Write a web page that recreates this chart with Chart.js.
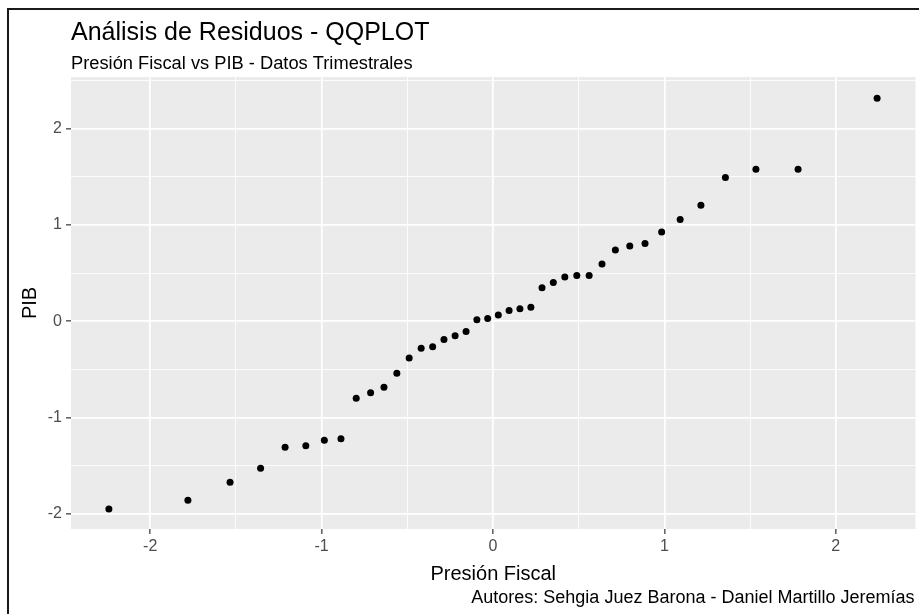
<!DOCTYPE html>
<html>
<head>
<meta charset="utf-8">
<script src="https://cdn.jsdelivr.net/npm/chart.js@4/dist/chart.umd.min.js"></script>
<style>
  html, body { margin: 0; padding: 0; background: #fff; }
  #wrap { position: relative; width: 919px; height: 614px; overflow: hidden; }
  #frame { position: absolute; left: 7px; top: 8px; right: -5px; bottom: -5px;
           border-left: 2px solid #1a1a1a; border-top: 2px solid #1a1a1a; pointer-events: none; }
</style>
</head>
<body>
<div id="wrap">
  <canvas id="qq" width="919" height="614"></canvas>
  <div id="frame"></div>
</div>
<script>
const FONT = "'Liberation Sans', Arial, sans-serif";

// theoretical normal quantiles (x) and sorted residuals (y)
const theoretical = [
  -2.241, -1.780, -1.534, -1.356, -1.213, -1.092, -0.984, -0.887, -0.798, -0.714,
  -0.636, -0.561, -0.489, -0.419, -0.352, -0.286, -0.221, -0.157, -0.094, -0.031,
   0.031,  0.094,  0.157,  0.221,  0.286,  0.352,  0.419,  0.489,  0.561,  0.636,
   0.714,  0.798,  0.887,  0.984,  1.092,  1.213,  1.356,  1.534,  1.780,  2.241
];
const residuals = [
  -1.948, -1.858, -1.670, -1.525, -1.307, -1.293, -1.234, -1.220, -0.800, -0.742,
  -0.686, -0.541, -0.381, -0.281, -0.264, -0.191, -0.150, -0.108,  0.014,  0.027,
   0.065,  0.110,  0.130,  0.145,  0.346,  0.401,  0.460,  0.474,  0.474,  0.593,
   0.738,  0.780,  0.807,  0.925,  1.056,  1.202,  1.490,  1.576,  1.576,  2.314
];

const xGridValues = [-2, -1.5, -1, -0.5, 0, 0.5, 1, 1.5, 2];
const yGridValues = [-2, -1.5, -1, -0.5, 0, 0.5, 1, 1.5, 2, 2.5];

const titleText = "Análisis de Residuos - QQPLOT";
const subtitleText = "Presión Fiscal vs PIB - Datos Trimestrales";
const captionText = "Autores: Sehgia Juez Barona - Daniel Martillo Jeremías";
const xTitle = "Presión Fiscal";
const yTitle = "PIB";

Chart.defaults.font.family = FONT;

function isMajor(v) { return Number.isInteger(v); }

// grey panel + ggplot style titles/caption
const ggText = {
  id: 'ggText',
  beforeDraw(chart) {
    const {ctx, chartArea: a} = chart;
    ctx.save();
    ctx.fillStyle = '#EBEBEB';
    ctx.fillRect(a.left, a.top, a.right - a.left, a.bottom - a.top);
    ctx.restore();
  },
  afterDraw(chart) {
    const {ctx, chartArea: a} = chart;
    ctx.save();
    ctx.fillStyle = '#000';
    ctx.textBaseline = 'alphabetic';
    ctx.textAlign = 'left';
    ctx.font = '25px ' + FONT;
    ctx.fillText(titleText, a.left, 40);
    ctx.font = '18.3px ' + FONT;
    ctx.fillText(subtitleText, a.left, 69);
    ctx.font = '18px ' + FONT;
    ctx.textAlign = 'right';
    ctx.fillText(captionText, a.right - 1, 603);
    ctx.restore();
  }
};

function gridOpts() {
  return {
    color: '#FFFFFF',
    lineWidth: c => isMajor(c.tick.value) ? 1.7 : 0.85,
    drawTicks: true,
    tickLength: 5,
    tickWidth: 1.2,
    tickColor: c => isMajor(c.tick.value) ? '#333333' : 'rgba(0,0,0,0)'
  };
}

new Chart(document.getElementById('qq'), {
  type: 'scatter',
  data: {
    datasets: [{
      data: theoretical.map((x, i) => ({x: x, y: residuals[i]})),
      backgroundColor: '#000',
      borderWidth: 0,
      pointRadius: 3.5,
      pointHoverRadius: 3.5
    }]
  },
  options: {
    responsive: false,
    devicePixelRatio: 1,
    animation: false,
    layout: {padding: {top: 77, right: 1, bottom: 0, left: 0}},
    plugins: {legend: {display: false}, tooltip: {enabled: false}},
    scales: {
      x: {
        type: 'linear',
        position: 'bottom',
        min: -2.462,
        max: 2.465,
        afterBuildTicks: s => { s.ticks = xGridValues.map(v => ({value: v})); },
        afterFit: s => { s.height = 85; },
        border: {display: false},
        grid: gridOpts(),
        ticks: {
          autoSkip: false, maxRotation: 0, padding: 3,
          color: '#4D4D4D', font: {size: 16},
          callback: v => isMajor(v) ? String(v) : ''
        },
        title: {display: true, text: xTitle, color: '#000', font: {size: 20}, padding: {top: 0, bottom: 28}}
      },
      y: {
        type: 'linear',
        position: 'left',
        min: -2.156,
        max: 2.534,
        afterBuildTicks: s => { s.ticks = yGridValues.map(v => ({value: v})); },
        afterFit: s => { s.width = 71; },
        border: {display: false},
        grid: gridOpts(),
        ticks: {
          autoSkip: false, padding: 4,
          color: '#4D4D4D', font: {size: 16},
          callback: v => isMajor(v) ? String(v) : ''
        },
        title: {display: true, text: yTitle, color: '#000', font: {size: 20}, padding: {top: 18, bottom: 0}}
      }
    }
  },
  plugins: [ggText]
});
</script>
</body>
</html>
